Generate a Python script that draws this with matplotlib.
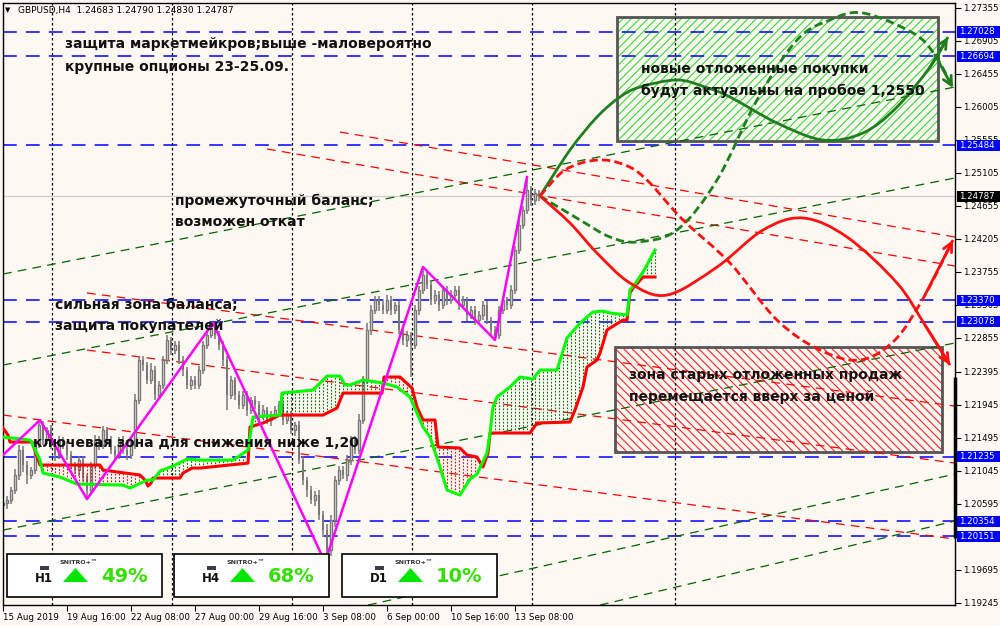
import matplotlib.pyplot as plt
import matplotlib.transforms as mtransforms
from matplotlib.patches import Rectangle, Polygon, PathPatch
from matplotlib.path import Path
import numpy as np

W, H = 1000, 626
BG = '#fef8f3'

# ---------------- data (H4 bars, bar 0 = 15 Aug 2019) ----------------
first_open = 1.2058
closes = [
    1.20602, 1.20643, 1.20779, 1.20984, 1.21325, 1.21120, 1.20984, 1.21052, 1.21393, 1.21666,
    1.21461, 1.21598, 1.21393, 1.21257, 1.21461, 1.21393, 1.21257, 1.21120, 1.21052, 1.21188,
    1.20943, 1.20779, 1.21120, 1.21461, 1.21393, 1.21598, 1.21461, 1.21325, 1.21257, 1.21461,
    1.21325, 1.21257, 1.21393, 1.22007, 1.22553, 1.22484, 1.22280, 1.22416, 1.22075, 1.22212,
    1.22553, 1.22826, 1.22689, 1.22757, 1.22553, 1.22416, 1.22212, 1.22280, 1.22212, 1.22416,
    1.22757, 1.22894, 1.22989, 1.22894, 1.22757, 1.22553, 1.22075, 1.22280, 1.22075, 1.21939,
    1.22075, 1.21871, 1.22007, 1.21939, 1.21802, 1.21871, 1.21734, 1.21802, 1.21871, 1.21939,
    1.21734, 1.21802, 1.21598, 1.21666, 1.21188, 1.20915, 1.20779, 1.20643, 1.20711, 1.20438,
    1.20233, 1.19960, 1.20370, 1.20915, 1.21052, 1.20984, 1.21188, 1.21461, 1.21325, 1.21734,
    1.22280, 1.22962, 1.23235, 1.23371, 1.23303, 1.23235, 1.23371, 1.23235, 1.23303, 1.22962,
    1.22826, 1.22894, 1.22757, 1.23235, 1.23508, 1.23712, 1.23576, 1.23371, 1.23439, 1.23303,
    1.23508, 1.23371, 1.23439, 1.23508, 1.23303, 1.23371, 1.23167, 1.23235, 1.23098, 1.23167,
    1.23303, 1.23098, 1.22962, 1.22894, 1.23235, 1.23371, 1.23303, 1.23508, 1.24053, 1.24394,
    1.24599, 1.24872, 1.24735, 1.24831, 1.24787,
]
wick_up = [
    5, 6, 4, 8, 7, 5, 6, 4, 6, 5, 6, 4, 7, 5, 6, 4, 5, 6, 4, 5,
    6, 5, 4, 7, 5, 6, 4, 5, 6, 4, 5, 6, 7, 8, 6, 5, 4, 9, 5, 6,
    5, 7, 4, 6, 5, 6, 4, 5, 6, 5, 6, 5, 7, 4, 5, 6, 5, 6, 4, 5,
    6, 5, 4, 6, 5, 7, 4, 5, 6, 5, 4, 6, 5, 4, 6, 5, 4, 6, 5, 7,
    6, 8, 7, 5, 6, 5, 7, 6, 5, 8, 6, 9, 7, 6, 5, 6, 7, 5, 4, 6,
    5, 6, 4, 7, 6, 8, 5, 6, 7, 5, 6, 5, 7, 6, 5, 6, 4, 5, 6, 5,
    6, 5, 4, 5, 6, 5, 4, 7, 6, 8, 6, 18, 6, 5, 4,
]
wick_dn = [
    6, 8, 5, 6, 7, 9, 12, 5, 6, 4, 7, 5, 6, 8, 5, 6, 7, 5, 6, 8,
    6, 10, 5, 6, 7, 5, 6, 5, 8, 6, 5, 7, 6, 5, 6, 8, 5, 6, 7, 5,
    6, 5, 7, 6, 5, 8, 6, 7, 5, 6, 5, 6, 4, 6, 7, 8, 20, 6, 7, 5,
    6, 8, 5, 6, 7, 5, 6, 8, 5, 6, 7, 6, 5, 8, 6, 7, 9, 6, 8, 7,
    9, 11, 8, 10, 7, 6, 8, 7, 6, 5, 6, 5, 7, 6, 8, 5, 6, 7, 5, 6,
    7, 9, 44, 6, 7, 5, 6, 7, 5, 8, 6, 7, 5, 6, 7, 6, 8, 5, 7, 6,
    7, 6, 8, 7, 6, 5, 7, 6, 5, 6, 5, 6, 8, 7, 6,
]

# ichimoku-like cloud lines (bar, price)
red_x = [0, 1.25, 1.75, 7.25, 9.25, 24.25, 25, 34.25, 35.5, 36.25, 37, 37.5, 44.25, 45, 47.25,
         49.25, 61.25, 61.75, 65, 69.25, 80, 83.5, 85, 94.75, 95.25, 99.25, 102.25, 103.5, 105,
         108, 108.75, 114.25, 116, 118.5, 120, 121.25, 121.75, 131.75, 133.5, 141.75, 143, 145,
         146, 148.5, 149.25, 151, 151.75, 155, 156, 156.75, 157.5, 160, 163]
red_p = [1.21625, 1.21529, 1.21434, 1.21434, 1.21120, 1.21120, 1.21052, 1.20984, 1.20915, 1.20834,
         1.20874, 1.20943, 1.20943, 1.21011, 1.21079, 1.21079, 1.21147, 1.21639, 1.21693, 1.21802,
         1.21802, 1.21898, 1.22102, 1.22102, 1.22321, 1.22321, 1.22171, 1.21911, 1.21734, 1.21734,
         1.21366, 1.21352, 1.21257, 1.21229, 1.21093, 1.21284, 1.21557, 1.21557, 1.21693, 1.21707,
         1.21871, 1.22185, 1.22457, 1.22553, 1.22648, 1.22962, 1.22989, 1.23098, 1.23098, 1.23467,
         1.23535, 1.23685, 1.23685]
grn_x = [0, 6.75, 7.25, 9.25, 10, 14.25, 18.5, 30, 31.75, 36, 37.5, 39.25, 42.5, 46, 49.25, 57.5,
         61.25, 62.5, 69.25, 69.75, 77.5, 81, 84.25, 85.5, 86.75, 90, 95, 98.5, 101.75, 103.5, 105,
         106.75, 109.25, 111, 114.25, 116.75, 118.5, 121, 121.75, 122.5, 123.5, 126.75, 129.25,
         132.5, 134.25, 138.5, 141, 144.25, 147.5, 150, 151.75, 156, 156.75, 158, 160, 163]
grn_p = [1.21502, 1.21461, 1.21420, 1.21188, 1.21011, 1.20956, 1.20861, 1.20847, 1.20806, 1.20915,
         1.20915, 1.21038, 1.21106, 1.21202, 1.21188, 1.21188, 1.21325, 1.21775, 1.21802, 1.22102,
         1.22143, 1.22334, 1.22334, 1.22212, 1.22212, 1.22280, 1.22239, 1.22185, 1.22048, 1.21830,
         1.21639, 1.21502, 1.21093, 1.20779, 1.20711, 1.20929, 1.20997, 1.21284, 1.21557, 1.21911,
         1.22048, 1.22185, 1.22321, 1.22293, 1.22416, 1.22416, 1.22853, 1.23057, 1.23207, 1.23221,
         1.23194, 1.23167, 1.23508, 1.23590, 1.23753, 1.24053]

# zigzag
zz_x = [0, 9.25, 21, 52.5, 80.5, 105, 123, 131]
zz_p = [1.21257, 1.21734, 1.20656, 1.23057, 1.19797, 1.23822, 1.22826, 1.25049]

# scenario projections
proj_green_x = [134.25, 141.75, 148.5, 154.25, 159.25, 168.5, 175.5, 181.75, 193.5, 205, 215, 223.5, 231.75, 236.25]
proj_green_p = [1.24790, 1.25418, 1.25868, 1.26141, 1.26277, 1.26373, 1.26277, 1.26141, 1.25786, 1.25554, 1.25650, 1.26004, 1.26550, 1.26959]
proj_green_d_x = [134.25, 144.25, 151.75, 158.5, 168.5, 178.5, 188.5, 198.5, 206.75, 215, 227.5, 233, 237.5]
proj_green_d_p = [1.24790, 1.24463, 1.24231, 1.24163, 1.24326, 1.25008, 1.26100, 1.26918, 1.27191, 1.27287, 1.27014, 1.26714, 1.26264]
proj_red_x = [134.25, 141.75, 148.5, 156.75, 166, 178.5, 190, 200, 211, 223.5, 230.5, 236.75]
proj_red_p = [1.24790, 1.24422, 1.24012, 1.23603, 1.23439, 1.23821, 1.24326, 1.24490, 1.24231, 1.23603, 1.23030, 1.22484]
proj_red_d_x = [134.25, 140.5, 148.5, 155.5, 161, 170, 181.75, 193.5, 204.25, 214.25, 223, 230.5, 237.5]
proj_red_d_p = [1.24790, 1.25145, 1.25281, 1.25213, 1.25008, 1.24463, 1.23876, 1.23098, 1.22689, 1.22553, 1.22826, 1.23439, 1.24190]

# trend lines (bar0, price0, bar1, price1)
red_lines = [(84.25, 1.25663, 238, 1.24231), (66, 1.25431, 238, 1.23835),
             (21, 1.23467, 238, 1.21925), (21, 1.22689, 238, 1.21147), (0, 1.21802, 238, 1.20111)]
green_lines = [(0, 1.23726, 238, 1.26277), (0, 1.22484, 238, 1.25036), (0, 1.20233, 238, 1.22785),
               (91.25, 1.19210, 238, 1.20997), (149.25, 1.19210, 238, 1.20356)]

levels = [1.27028, 1.26694, 1.25484, 1.23370, 1.23078, 1.21235, 1.20354, 1.20151]
last_price = 1.24787
week_seps = [12.25, 42.25, 72.25, 102.25, 132.25, 168]

buy_box = (153.5, 1.25540, 233.75, 1.27232)
sell_box = (153, 1.21297, 234.75, 1.22730)

price_ticks = [1.27355, 1.26905, 1.26455, 1.26005, 1.25555, 1.25105, 1.24655, 1.24205, 1.23755,
               1.23305, 1.22855, 1.22395, 1.21945, 1.21495, 1.21045, 1.20595, 1.20145, 1.19695, 1.19245]
date_ticks = [0, 16, 32, 48, 64, 80, 96, 112, 128]
date_labels = ['15 Aug 2019', '19 Aug 16:00', '22 Aug 08:00', '27 Aug 00:00', '29 Aug 16:00',
               '3 Sep 08:00', '6 Sep 00:00', '10 Sep 16:00', '13 Sep 08:00']

tf_names = ['H1', 'H4', 'D1']
tf_pcts = ['49%', '68%', '10%']

# ---------------- figure ----------------
plt.rcParams['font.family'] = ['DejaVu Sans']
plt.rcParams['hatch.linewidth'] = 0.8

fig = plt.figure(figsize=(W / 100, H / 100), dpi=100, facecolor=BG)
ax = fig.add_axes([3 / W, 1 - 605 / H, 952 / W, 602 / H], facecolor=BG)
ax.set_xlim(0, 238)
ax.set_ylim(1.19211, 1.27423)


def fx(x):
    return x / W


def fy(y):
    return 1 - y / H


def smooth(xs, ps):
    # Catmull-Rom through the read points, drawn as cubic Bezier segments
    P = np.column_stack([xs, ps])
    n = len(P)
    verts, codes = [P[0]], [Path.MOVETO]
    for i in range(n - 1):
        p0 = P[i - 1] if i > 0 else P[i]
        p3 = P[i + 2] if i + 2 < n else P[i + 1]
        verts += [P[i] + (P[i + 1] - p0) / 6, P[i + 1] - (p3 - P[i]) / 6, P[i + 1]]
        codes += [Path.CURVE4] * 3
    return Path(verts, codes)


# hatched zones (behind everything else)
for (x0, p0, x1, p1), hc, hp in [(buy_box, '#33dd33', '////'), (sell_box, '#ff2020', '\\\\\\\\')]:
    ax.add_patch(Rectangle((x0, p0), x1 - x0, p1 - p0, facecolor='none', edgecolor=hc,
                           lw=0, hatch=hp, zorder=0.5))
    ax.add_patch(Rectangle((x0, p0), x1 - x0, p1 - p0, facecolor='none', edgecolor='#555555',
                           lw=2, zorder=0.6))

# separators, levels, channels
for b in week_seps:
    ax.axvline(b, color='black', lw=0.9, ls=(0, (2, 2)), zorder=0.7)
ax.axhline(last_price, color='#cccccc', lw=0.9, zorder=0.7)
for lv in levels:
    ax.axhline(lv, color='#0000ff', lw=1.1, ls=(0, (9, 6)), zorder=1)
for x0, p0, x1, p1 in red_lines:
    ax.plot([x0, x1], [p0, p1], color='#ff0000', lw=0.9, ls=(0, (7, 5)), zorder=1)
for x0, p0, x1, p1 in green_lines:
    ax.plot([x0, x1], [p0, p1], color='#006400', lw=0.9, ls=(0, (7, 5)), zorder=1)

# candles
c = np.array(closes)
o = np.array([first_open] + closes[:-1])
idx = np.arange(len(c))
hi = np.maximum(o, c) + np.array(wick_up) * 1e-4
lo = np.minimum(o, c) - np.array(wick_dn) * 1e-4
up = c >= o
ax.vlines(idx, lo, hi, color='#787878', lw=1.1, zorder=2)
ax.bar(idx[up], (c - o)[up], bottom=o[up], width=0.72, facecolor='#f4f0ec', edgecolor='#787878',
       lw=1.0, zorder=2.1)
ax.bar(idx[~up], (o - c)[~up], bottom=c[~up], width=0.72, color='#787878', zorder=2.1)

# cloud hatching between the two lines
grid = np.arange(0, 164)
rr = np.interp(grid, red_x, red_p)
gg = np.interp(grid, grn_x, grn_p)
m = gg > rr
ax.vlines(grid[m], rr[m], gg[m], colors='#007000', linestyles=(0, (1.5, 1.5)), lw=0.8, zorder=2.5)
ax.vlines(grid[~m], gg[~m], rr[~m], colors='#ff0000', linestyles=(0, (1.5, 1.5)), lw=0.8, zorder=2.5)
ax.plot(red_x, red_p, color='#ff0000', lw=2.2, zorder=3)
ax.plot(grn_x, grn_p, color='#00ff00', lw=2.2, zorder=3)

# zigzag
ax.plot(zz_x, zz_p, color='#ff00ff', lw=1.8, zorder=4)

# projections
for xs, ps, col, ls in [(proj_green_x, proj_green_p, '#1f7f1f', '-'),
                        (proj_green_d_x, proj_green_d_p, '#1f7f1f', (0, (3, 1.5))),
                        (proj_red_x, proj_red_p, '#ff1010', '-'),
                        (proj_red_d_x, proj_red_d_p, '#ff1010', (0, (3, 1.5)))]:
    ax.add_patch(PathPatch(smooth(xs, ps), fill=False, edgecolor=col, lw=2.0, ls=ls,
                           zorder=5, clip_on=False))
    ax.annotate('', xy=(xs[-1], ps[-1]), xytext=(xs[-2], ps[-2]), annotation_clip=False,
                arrowprops=dict(arrowstyle='->', color=col, lw=2.0, mutation_scale=16,
                                shrinkA=0, shrinkB=0), zorder=5)

# axes styling
for s in ax.spines.values():
    s.set_color('black')
    s.set_linewidth(1)
ax.yaxis.tick_right()
ax.set_yticks(price_ticks)
ax.set_yticklabels([f'{p:.5f}' for p in price_ticks])
ax.set_xticks(date_ticks)
ax.set_xticklabels(date_labels, ha='left')
ax.tick_params(axis='y', direction='out', length=4, pad=2, labelsize=6.2)
ax.tick_params(axis='x', direction='out', length=4, pad=2, labelsize=6.3)
ax.plot([238, 238], [1.20124, 1.22321], color='black', lw=2.5, clip_on=False, zorder=6,
        solid_capstyle='butt')

# price labels on the scale
trans = mtransforms.blended_transform_factory(fig.transFigure, ax.transData)
for lv, col in [(v, '#0000ff') for v in levels] + [(last_price, 'black')]:
    fig.add_artist(Rectangle((0.9565, lv - 0.00076), 0.0435, 0.00152, transform=trans,
                             facecolor=col, edgecolor='none', zorder=5))
    fig.text(0.9595, lv, f'{lv:.5f}', transform=trans, color='white', fontsize=6.2,
             va='center', ha='left', zorder=6)

# header
fig.text(fx(5), fy(10), '\u25bc', fontsize=5, va='center')
fig.text(fx(18), fy(10), 'GBPUSD,H4  1.24683 1.24790 1.24830 1.24787', fontsize=6.5, va='center')

# annotations
notes = [
    (65, 44, 'защита маркетмейкров;выше -маловероятно'),
    (65, 67, 'крупные опционы 23-25.09.'),
    (175, 201, 'промежуточный баланс;'),
    (175, 222, 'возможен откат'),
    (55, 305, 'сильная зона баланса;'),
    (55, 326, 'защита покупателей'),
    (33, 443, 'ключевая зона для снижения ниже 1,20'),
    (641, 69, 'новые отложенные покупки'),
    (641, 91, 'будут актуальны на пробое 1,2550'),
    (629, 375, 'зона старых отложенных продаж'),
    (629, 397, 'перемещается вверх за ценой'),
]
for x, y, s in notes:
    fig.text(fx(x), fy(y), s, fontsize=10, fontweight='bold', va='center', ha='left',
             color='#111111', zorder=7)

# indicator panels
for i, (name, pct) in enumerate(zip(tf_names, tf_pcts)):
    dx = [0, 167, 335][i]
    fig.add_artist(Rectangle((fx(7 + dx), fy(597)), 155 / W, 43 / H, transform=fig.transFigure,
                             facecolor='white', edgecolor='black', lw=1.2, zorder=8))
    fig.add_artist(Rectangle((fx(40 + dx), fy(570)), 9 / W, 4 / H, transform=fig.transFigure,
                             facecolor='#3c3c4c', edgecolor='none', zorder=9))
    fig.text(fx(43.5 + dx), fy(578), name, fontsize=8.5, fontweight='bold', ha='center',
             va='center', color='#111111', zorder=9)
    fig.text(fx(79 + dx), fy(562), 'SNITRO+™', fontsize=4.5, fontweight='bold', ha='center',
             va='center', color='#333333', zorder=9)
    fig.add_artist(Polygon([(fx(63 + dx), fy(582)), (fx(88 + dx), fy(582)), (fx(75.5 + dx), fy(568))],
                           closed=True, transform=fig.transFigure, facecolor='#00e600',
                           edgecolor='none', zorder=9))
    fig.text(fx(101 + dx), fy(576), pct, fontsize=14, fontweight='bold', ha='left', va='center',
             color='#33e000', zorder=9)

fig.savefig('out.png', dpi=100, facecolor=BG)
